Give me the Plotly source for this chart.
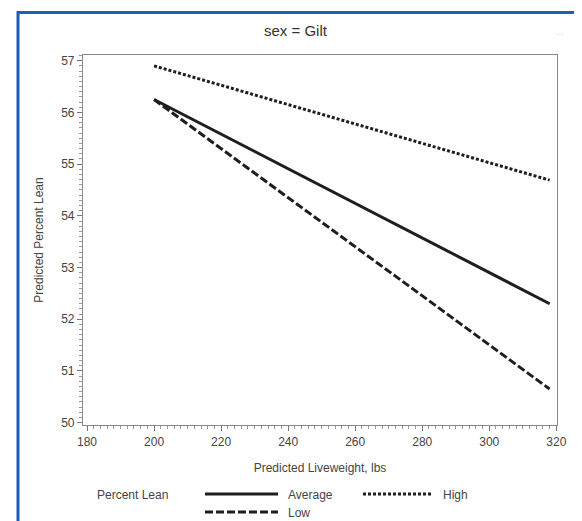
import plotly.graph_objects as go

# ---- data ----
weights = [200, 318]
average_lean = [56.25, 52.30]
high_lean = [56.90, 54.69]
low_lean = [56.25, 50.65]

x_ticks = [180, 200, 220, 240, 260, 280, 300, 320]
y_ticks = [50, 51, 52, 53, 54, 55, 56, 57]

# page body adds an 8px margin; lay out in window pixels and shift
OFF = 8
WIN_W, WIN_H = 582, 521
W, H = WIN_W - OFF, WIN_H - OFF
# plot area in window pixels
X0, X1, Y0, Y1 = 83, 557, 55, 425
L, R, T, B = X0 - OFF, W - (X1 - OFF), Y0 - OFF, H - (Y1 - OFF)
PW, PH = X1 - X0, Y1 - Y0


def px(x):
    return (x - X0) / PW


def py(y):
    return (Y1 - y) / PH


FONT = "Liberation Sans, Arial, sans-serif"
INK = "#1e1e1e"
TXT = "#444444"

fig = go.Figure()
fig.add_trace(go.Scatter(x=weights, y=average_lean, mode="lines", name="Average",
                         line=dict(color=INK, width=3, dash="solid")))
fig.add_trace(go.Scatter(x=weights, y=high_lean, mode="lines", name="High",
                         line=dict(color=INK, width=3, dash="3px,2px")))
fig.add_trace(go.Scatter(x=weights, y=low_lean, mode="lines", name="Low",
                         line=dict(color=INK, width=3, dash="8px,3px")))

axis_common = dict(showline=True, linecolor="#8a8a8a", linewidth=1.2, mirror=True,
                   showgrid=False, zeroline=False, ticks="outside", ticklen=5,
                   tickcolor="#777777", tickfont=dict(family=FONT, size=12, color=TXT))

fig.update_xaxes(range=[178.8, 320.2], tickvals=x_ticks,
                 minor=dict(ticks="outside", ticklen=3, dtick=2, tick0=180, tickcolor="#999999"),
                 title=dict(text="Predicted Liveweight, lbs", standoff=16,
                            font=dict(family=FONT, size=12, color=TXT)),
                 **axis_common)
fig.update_yaxes(range=[49.955, 57.11], tickvals=y_ticks,
                 minor=dict(ticks="outside", ticklen=3, dtick=0.1, tick0=50, tickcolor="#999999"),
                 title=dict(text="Predicted Percent Lean", standoff=14,
                            font=dict(family=FONT, size=12, color=TXT)),
                 **axis_common)

shapes = [
    # blue frame around the figure
    dict(type="rect", xref="paper", yref="paper", x0=px(18), x1=px(575.5), y0=py(12.5), y1=py(540),
         line=dict(color="#1f5eb5", width=3), fillcolor="rgba(0,0,0,0)", layer="above"),
    # legend samples
    dict(type="line", xref="paper", yref="paper", x0=px(205), x1=px(278), y0=py(494), y1=py(494),
         line=dict(color=INK, width=3, dash="solid")),
    dict(type="line", xref="paper", yref="paper", x0=px(363), x1=px(433), y0=py(494), y1=py(494),
         line=dict(color=INK, width=3, dash="3px,2px")),
    dict(type="line", xref="paper", yref="paper", x0=px(205), x1=px(278), y0=py(512), y1=py(512),
         line=dict(color=INK, width=3, dash="8px,3px")),
]

ann = [
    dict(text="sex = Gilt", x=px(296), y=py(30), xref="paper", yref="paper", showarrow=False,
         xanchor="center", yanchor="middle", font=dict(family=FONT, size=15, color="#333333")),
    dict(text="Percent Lean", x=px(95), y=py(495), xref="paper", yref="paper", showarrow=False,
         xanchor="left", yanchor="middle", font=dict(family=FONT, size=12, color=TXT)),
    dict(text="Average", x=px(286), y=py(495), xref="paper", yref="paper", showarrow=False,
         xanchor="left", yanchor="middle", font=dict(family=FONT, size=12, color=TXT)),
    dict(text="High", x=px(441), y=py(495), xref="paper", yref="paper", showarrow=False,
         xanchor="left", yanchor="middle", font=dict(family=FONT, size=12, color=TXT)),
    dict(text="Low", x=px(286), y=py(513), xref="paper", yref="paper", showarrow=False,
         xanchor="left", yanchor="middle", font=dict(family=FONT, size=12, color=TXT)),
    dict(text="- -", x=px(560), y=py(34), xref="paper", yref="paper", showarrow=False,
         xanchor="center", yanchor="middle", font=dict(family=FONT, size=6, color="#aaaaaa")),
]

fig.update_layout(width=W, height=H, margin=dict(l=L, r=R, t=T, b=B, autoexpand=False),
                  paper_bgcolor="white", plot_bgcolor="white", showlegend=False,
                  shapes=shapes, annotations=ann, font=dict(family=FONT))

fig.write_html("out.html")
